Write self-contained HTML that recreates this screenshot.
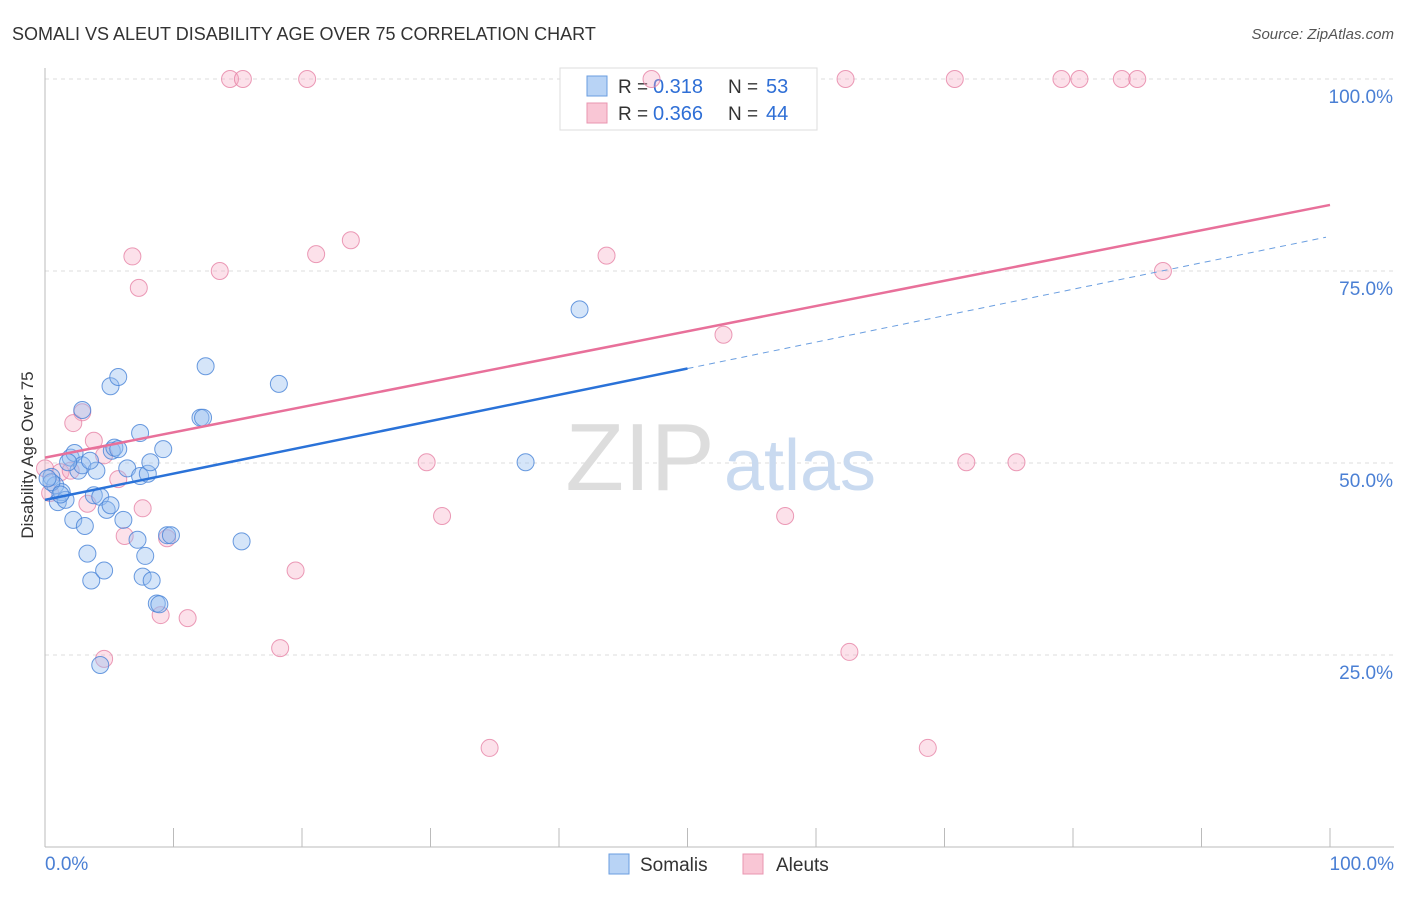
<!DOCTYPE html>
<html><head><meta charset="utf-8">
<style>
body{margin:0;background:#fff;font-family:"Liberation Sans",sans-serif}
svg text{font-family:"Liberation Sans",sans-serif}
</style></head>
<body>
<svg id="chart" width="1406" height="892" xmlns="http://www.w3.org/2000/svg">
<text x="12" y="40" font-size="18" fill="#333">SOMALI VS ALEUT DISABILITY AGE OVER 75 CORRELATION CHART</text>
<text x="1394" y="39" font-size="15" fill="#555" font-style="italic" text-anchor="end">Source: ZipAtlas.com</text>
<g id="grid"></g>
<text x="640" y="490" font-size="96" fill="#ddd" font-family="Liberation Serif" text-anchor="middle">ZIP</text>
<text x="800" y="490" font-size="72" fill="#c9daf0" text-anchor="middle">atlas</text>
<g>
<rect x="560" y="68" width="257" height="62" fill="#fff" stroke="#ddd"/>
<rect x="587" y="76" width="20" height="20" fill="#b8d3f5" stroke="#6a9ee0"/>
<rect x="587" y="103" width="20" height="20" fill="#f9c6d5" stroke="#e995b0"/>
<text x="618" y="93" font-size="19" fill="#333">R =</text>
<text x="653" y="93" font-size="20" fill="#2f6fd6">0.318</text>
<text x="728" y="93" font-size="19" fill="#333">N =</text>
<text x="766" y="93" font-size="20" fill="#2f6fd6">53</text>
<text x="618" y="120" font-size="19" fill="#333">R =</text>
<text x="653" y="120" font-size="20" fill="#2f6fd6">0.366</text>
<text x="728" y="120" font-size="19" fill="#333">N =</text>
<text x="766" y="120" font-size="20" fill="#2f6fd6">44</text>
</g>
<g id="axes"></g>
<g id="pts"></g>
<g id="lines"></g>
<text x="33" y="455" font-size="17" fill="#333" text-anchor="middle" transform="rotate(-90 33 455)">Disability Age Over 75</text>
<text x="45" y="870" font-size="19" fill="#4a7fd4">0.0%</text>
<text x="1394" y="870" font-size="19" fill="#4a7fd4" text-anchor="end">100.0%</text>
<g>
<rect x="609" y="854" width="20" height="20" fill="#b8d3f5" stroke="#6a9ee0"/>
<text x="640" y="871" font-size="19" fill="#333">Somalis</text>
<rect x="743" y="854" width="20" height="20" fill="#f9c6d5" stroke="#e995b0"/>
<text x="776" y="871" font-size="19" fill="#333">Aleuts</text>
</g>
</svg>
<script>
const yTicks=[25,50,75,100];
const yTickLabels=["25.0%","50.0%","75.0%","100.0%"];
const xTicks=[0,10,20,30,40,50,60,70,80,90,100];
const somaliX=[0.5,0.8,1.0,1.3,1.6,2.0,2.2,2.3,2.6,2.9,3.1,3.3,3.6,3.8,4.0,4.3,4.6,4.3,4.8,5.1,5.2,5.4,5.7,5.7,6.1,6.4,7.2,7.4,7.4,7.6,7.8,8.0,8.2,8.3,8.7,8.9,9.2,9.5,9.8,12.1,12.3,12.5,15.3,18.2,37.4,41.6,2.9,0.5,1.2,0.2,3.5,1.8,5.1];
const somaliY=[48.2,47.1,44.9,46.2,45.2,50.7,42.6,51.3,49.0,49.7,41.8,38.2,34.7,45.8,49.0,45.6,36.0,23.7,43.9,60.0,51.6,52.0,61.2,51.8,42.6,49.3,40.0,53.9,48.3,35.2,37.9,48.6,50.1,34.7,31.7,31.6,51.8,40.6,40.6,55.9,55.9,62.6,39.8,60.3,50.1,70.0,56.9,47.5,45.9,48.0,50.3,50.1,44.5];
const aleutX=[14.4,15.4,20.4,47.2,62.3,70.8,79.1,80.5,83.8,85.0,6.8,13.6,7.3,21.1,23.8,43.7,87.0,52.8,2.9,2.2,3.8,4.6,5.7,7.6,3.3,6.2,9.5,29.7,71.7,75.6,30.9,57.6,19.5,9.0,11.1,18.3,62.6,4.6,34.6,68.7,0.0,1.2,2.0,0.4];
const aleutY=[100,100,100,100,100,100,100,100,100,100,76.9,75.0,72.8,77.2,79.0,77.0,75.0,66.7,56.6,55.2,52.9,51.0,47.9,44.1,44.7,40.5,40.2,50.1,50.1,50.1,43.1,43.1,36.0,30.2,29.8,25.9,25.4,24.5,12.9,12.9,49.3,48.8,49.0,46.1];
const blueLine={x0:0,y0:45.2,x1:50,y1:62.3,x2:100,y2:79.4};
const pinkLine={x0:0,y0:50.7,x1:100,y1:83.6};
const X=v=>45+v*12.85, Y=v=>847-v*7.68;
const NS="http://www.w3.org/2000/svg";
function mk(t,a,p){const e=document.createElementNS(NS,t);for(const k in a)e.setAttribute(k,a[k]);p.appendChild(e);return e;}
const grid=document.getElementById('grid'),axes=document.getElementById('axes'),pts=document.getElementById('pts'),lines=document.getElementById('lines');
yTicks.forEach((t,i)=>{
 const l=mk('line',{x1:45,x2:1394,y1:Y(t),y2:Y(t),stroke:'#ddd','stroke-dasharray':'4,4'},grid);
 
 
 const tx=mk('text',{x:1393,y:Y(t)+24,'font-size':19,fill:'#4a7fd4','text-anchor':'end'},grid);
 tx.textContent=yTickLabels[i];
 
 
});
const ya=mk('line',{x1:45,x2:45,y1:68,y2:847,stroke:'#bbb'},axes);


const xa=mk('line',{x1:45,x2:1394,y1:847,y2:847,stroke:'#bbb'},axes);


xTicks.forEach(t=>{
 const l=mk('line',{x1:X(t),x2:X(t),y1:828,y2:847,stroke:'#bbb'},axes);
 
 
});
aleutX.forEach((v,i)=>{
 const c=mk('circle',{cx:X(v),cy:Y(aleutY[i]),r:8.5,fill:'rgba(246,170,195,0.35)',stroke:'rgba(230,130,165,0.8)','stroke-width':1},pts);
 
 
});
somaliX.forEach((v,i)=>{
 const c=mk('circle',{cx:X(v),cy:Y(somaliY[i]),r:8.5,fill:'rgba(150,190,240,0.4)',stroke:'rgba(70,130,215,0.8)','stroke-width':1},pts);
 
 
});
const pl=mk('line',{x1:X(pinkLine.x0),y1:Y(pinkLine.y0),x2:X(pinkLine.x1),y2:Y(pinkLine.y1),stroke:'#e8709a','stroke-width':2.5},lines);


const bl=mk('line',{x1:X(blueLine.x0),y1:Y(blueLine.y0),x2:X(blueLine.x1),y2:Y(blueLine.y1),stroke:'#2a72d8','stroke-width':2.5},lines);


const bd=mk('line',{x1:X(blueLine.x1),y1:Y(blueLine.y1),x2:X(blueLine.x2)-4,y2:Y(blueLine.y2),stroke:'#6a9ee0','stroke-width':1,'stroke-dasharray':'6,5'},lines);


</script>
</body></html>
